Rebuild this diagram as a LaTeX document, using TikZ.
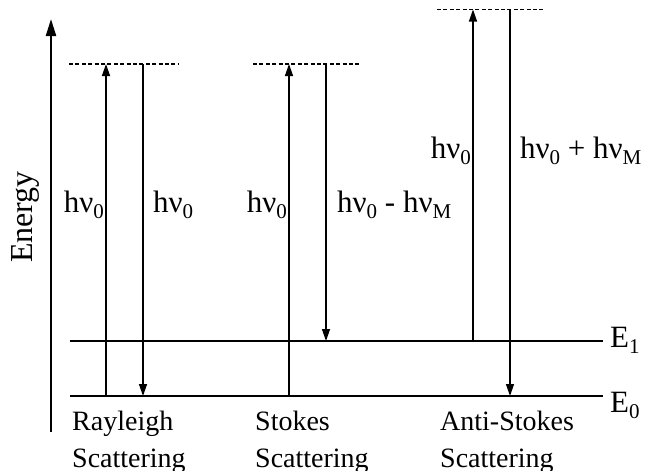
\documentclass[tikz,border=0pt]{standalone}
\usepackage{fontspec}
\setmainfont{Liberation Serif}
\usetikzlibrary{arrows.meta}
\newcommand{\sbs}[1]{\raisebox{-0.22em}{\fontsize{21}{21}\selectfont #1}}
\begin{document}
\begin{tikzpicture}[x=1pt,y=-1pt,
  lbl/.style={font=\fontsize{28}{34}\selectfont, inner sep=0pt},
  hlbl/.style={font=\fontsize{31}{36}\selectfont, inner sep=0pt},
  level/.style={line width=2pt},
  trans/.style={line width=1.4pt},
  tipd/.style={-{Triangle[length=12pt,width=8pt]}},
  virt/.style={line width=1.4pt, dash pattern=on 4pt off 2.4pt},
  axis/.style={line width=2.2pt, -{Triangle[length=17pt,width=10pt]}}]
\useasboundingbox (0,0) rectangle (649,471);
% axis
\coordinate (ax0) at (51,432);
\coordinate (ax1) at (51,19);
\draw[axis] (ax0) -- (ax1);
\node[hlbl, rotate=90, anchor=base] (energy) at (32,217) {\fontsize{32}{36}\selectfont Energy};
% levels
\coordinate (e0a) at (70,396);
\coordinate (e0b) at (603,396);
\coordinate (e1a) at (70,341);
\coordinate (e1b) at (603,341);
\draw[level] (e0a) -- (e0b);
\draw[level] (e1a) -- (e1b);
\node[hlbl, anchor=base west] (E1) at (610,347) {E\sbs{1}};
\node[hlbl, anchor=base west] (E0) at (610,412) {E\sbs{0}};
% virtual levels
\coordinate (vr1) at (69,64); \coordinate (vr2) at (178,64);
\coordinate (vs1) at (253,64); \coordinate (vs2) at (361,64);
\coordinate (va1) at (437,9.5); \coordinate (va2) at (545,9.5);
\draw[virt] (vr1) -- (vr2);
\draw[virt] (vs1) -- (vs2);
\draw[virt] (va1) -- (va2);
% Rayleigh
\coordinate (r1b) at (106,396); \coordinate (r1t) at (106,64);
\coordinate (r2t) at (143,64); \coordinate (r2b) at (143,396);
\draw[trans,tipd] (r1b) -- (r1t);
\draw[trans,tipd] (r2t) -- (r2b);
% Stokes
\coordinate (s1b) at (289,396); \coordinate (s1t) at (289,64);
\coordinate (s2t) at (326,64); \coordinate (s2b) at (326,341);
\draw[trans,tipd] (s1b) -- (s1t);
\draw[trans,tipd] (s2t) -- (s2b);
% Anti-Stokes
\coordinate (a1b) at (473,341); \coordinate (a1t) at (473,9.5);
\coordinate (a2t) at (510,9.5); \coordinate (a2b) at (510,396);
\draw[trans,tipd] (a1b) -- (a1t);
\draw[trans,tipd] (a2t) -- (a2b);
% transition labels
\node[hlbl, anchor=base east] (lr1) at (104,212) {hν\sbs{0}};
\node[hlbl, anchor=base west] (lr2) at (153,212) {hν\sbs{0}};
\node[hlbl, anchor=base east] (ls1) at (287,212) {hν\sbs{0}};
\node[hlbl, anchor=base west] (ls2) at (337,212) {hν\sbs{0} - hν\sbs{M}};
\node[hlbl, anchor=base east] (la1) at (471,158) {hν\sbs{0}};
\node[hlbl, anchor=base west] (la2) at (520,158) {hν\sbs{0} + hν\sbs{M}};
% bottom labels
\node[lbl, anchor=base west] (ray) at (72,430) {Rayleigh};
\node[lbl, anchor=base west] (ray2) at (72,467) {Scattering};
\node[lbl, anchor=base west] (sto) at (255,430) {Stokes};
\node[lbl, anchor=base west] (sto2) at (255,467) {Scattering};
\node[lbl, anchor=base west] (ant) at (440,430) {Anti-Stokes};
\node[lbl, anchor=base west] (ant2) at (440,467) {Scattering};
\end{tikzpicture}
\end{document}
